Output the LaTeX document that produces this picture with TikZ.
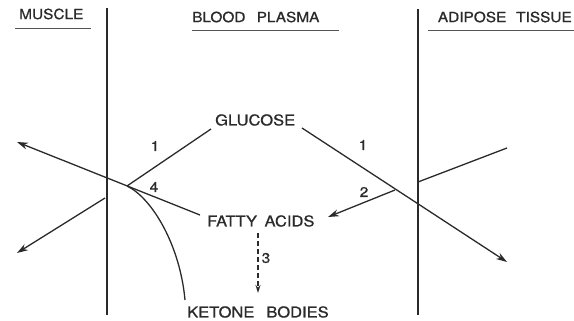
\documentclass[tikz,border=0pt]{standalone}
\usepackage{fontspec}
\setmainfont{TeX Gyre Heros}[FakeStretch=1.1, FakeBold=0.8]
\usetikzlibrary{arrows.meta}
\definecolor{ink}{HTML}{2A2A2A}
\tikzset{
  lbl/.style={font=\fontsize{15}{15}\selectfont, text=ink, inner sep=0pt, anchor=west},
  hd/.style={lbl, font=\fontsize{14}{14}\selectfont},
  num/.style={font=\fontsize{14}{14}\selectfont, text=ink, inner sep=0pt},
  ln/.style={draw=ink, line width=1.3pt},
  ul/.style={draw=ink!80, line width=1pt},
  arr/.style={ln, -{Stealth[length=11pt,width=7pt]}},
  dsh/.style={ln, dash pattern=on 5pt off 3pt}
}
\begin{document}
\begin{tikzpicture}[x=1pt,y=-1pt]
\useasboundingbox (0,0) rectangle (574,321);
% headings
\node[hd] (muscle) at (19,14) {MUSCLE};
\node[hd] (plasma) at (192,17) {BLOOD\hspace{0.8em}PLASMA};
\node[hd, anchor=east] (adipose) at (572,17) {ADIPOSE\hspace{0.7em}TISSUE};
\draw[ul] (15,29) -- (91,29);
\draw[ul] (192,31) -- (339,31);
\draw[ul] (428,31) -- (574,31);
% membranes
\coordinate (lt) at (107,8); \coordinate (lb) at (107,315);
\coordinate (rt) at (418,9); \coordinate (rb) at (418,315);
\draw[ln] (lt) -- (lb);
\draw[ln] (rt) -- (rb);
% metabolites
\node[lbl] (glucose) at (215,120) {GLUCOSE};
\node[lbl] (fatty) at (207,221) {FATTY\hspace{0.5em}ACIDS};
\node[lbl] (ketone) at (187,312) {KETONE\hspace{0.8em}BODIES};
% coordinates
\coordinate (g1) at (211,129);
\coordinate (j4) at (127,186);
\coordinate (f1) at (200,215);
\coordinate (m1) at (17,142);
\coordinate (m2) at (105,198);
\coordinate (m3) at (17,253);
\coordinate (k0) at (185,300);
\coordinate (g2) at (302,128);
\coordinate (a1) at (507,262);
\coordinate (j2) at (395,190);
\coordinate (f2) at (328,217);
\coordinate (a2) at (418,182);
\coordinate (a3) at (507,148);
\coordinate (f3) at (258,233);
\coordinate (k1) at (258,293);
% connectors
\draw[ln] (g1) -- (j4);
\draw[arr] (f1) -- (m1);
\draw[ln] (j4) .. controls (152,198) and (180,245) .. (k0);
\draw[arr] (m2) -- (m3);
\draw[arr] (g2) -- (a1);
\draw[arr] (j2) -- (f2);
\draw[ln] (a2) -- (a3);
\draw[dsh, -{Stealth[length=8pt,width=5pt]}] (f3) -- (k1);
% labels
\node[num] (n1a) at (155,146) {1};
\node[num] (n4) at (154,187) {4};
\node[num] (n1b) at (363,145) {1};
\node[num] (n2) at (364,192) {2};
\node[num] (n3) at (266,258) {3};
\end{tikzpicture}
\end{document}
